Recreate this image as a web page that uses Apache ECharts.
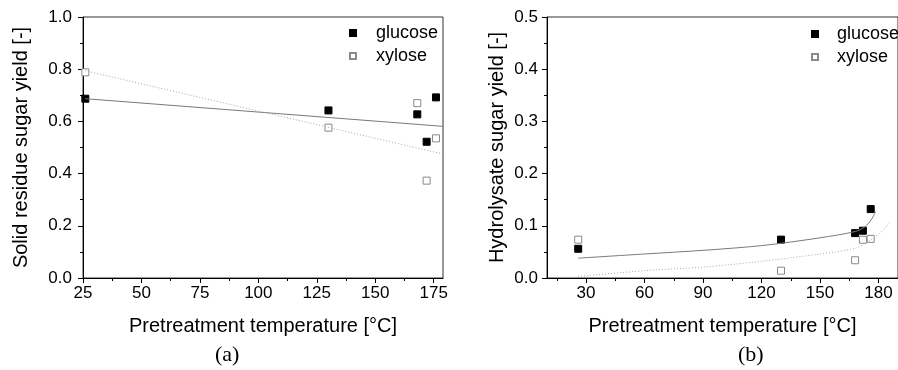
<!DOCTYPE html>
<html>
<head>
<meta charset="utf-8">
<script src="https://cdn.jsdelivr.net/npm/echarts@6/dist/echarts.min.js"></script>
<style>
  html, body { margin: 0; padding: 0; background: #fff; }
  #chart { width: 898px; height: 370px; }
</style>
</head>
<body>
<div id="chart"></div>
<script>
// (a) solid residue
const tempA = [26, 130, 168, 172, 176];
const glucoseA = [0.687, 0.642, 0.627, 0.522, 0.692];
const xyloseA = [0.788, 0.576, 0.670, 0.373, 0.535];
const glucoseFitA = [[26, 0.687], [179, 0.581]];
const xyloseFitA = [[26, 0.794], [179, 0.475]];
const xTicksA = [25, 50, 75, 100, 125, 150, 175];
const xMinorA = [37.5, 62.5, 87.5, 112.5, 137.5, 162.5];
const yTicksA = [0, 0.2, 0.4, 0.6, 0.8, 1.0];
const yMinorA = [0.1, 0.3, 0.5, 0.7, 0.9];

// (b) hydrolysate
const tempB = [26, 130, 168, 172, 176];
const glucoseB = [0.056, 0.0735, 0.086, 0.0906, 0.132];
const xyloseB = [0.0735, 0.014, 0.034, 0.0733, 0.075];
const glucoseFitB = [[26, 0.038], [60, 0.046], [90, 0.053], [120, 0.062], [150, 0.077], [168, 0.089], [173, 0.098], [176.5, 0.113], [178.5, 0.127]];
const xyloseFitB = [[26, 0.003], [60, 0.014], [90, 0.021], [120, 0.032], [150, 0.046], [168, 0.057], [176, 0.073], [182.5, 0.092], [186, 0.108]];
const xTicksB = [30, 60, 90, 120, 150, 180];
const xMinorB = [15, 45, 75, 105, 135, 165];
const yTicksB = [0, 0.1, 0.2, 0.3, 0.4, 0.5];
const yMinorB = [0.05, 0.15, 0.25, 0.35, 0.45];

const FONT = 'Liberation Sans, Arial, sans-serif';
const pairs = (xs, ys) => xs.map((x, i) => [x, ys[i]]);

const mainX = (grid, min, max, ticks) => ({
    type: 'value', gridIndex: grid, min: min, max: max, position: 'bottom',
    name: 'Pretreatment temperature [°C]', nameLocation: 'middle', nameGap: 38,
    nameTextStyle: { fontFamily: FONT, fontSize: 20, color: '#000' },
    axisLine: { show: true, lineStyle: { color: '#000', width: 1 } },
    axisTick: { show: true, inside: false, length: 5, customValues: ticks, lineStyle: { color: '#000' } },
    axisLabel: { customValues: ticks, margin: 7, fontFamily: FONT, fontSize: 17, color: '#000' },
    splitLine: { show: false }
});
const minorX = (grid, min, max, ticks) => ({
    type: 'value', gridIndex: grid, min: min, max: max, position: 'bottom',
    axisLine: { show: false },
    axisTick: { show: true, length: 3, customValues: ticks, lineStyle: { color: '#000' } },
    axisLabel: { show: false },
    splitLine: { show: false }
});
const mainY = (grid, max, ticks, name, gap, margin) => ({
    type: 'value', gridIndex: grid, min: 0, max: max, position: 'left',
    name: name, nameLocation: 'middle', nameGap: gap,
    nameTextStyle: { fontFamily: FONT, fontSize: 20, color: '#000' },
    axisLine: { show: true, lineStyle: { color: '#000', width: 1 } },
    axisTick: { show: true, length: 5, customValues: ticks, lineStyle: { color: '#000' } },
    axisLabel: { customValues: ticks, margin: margin, fontFamily: FONT, fontSize: 17, color: '#000',
        formatter: v => v.toFixed(1) },
    splitLine: { show: false }
});
const minorY = (grid, max, ticks) => ({
    type: 'value', gridIndex: grid, min: 0, max: max, position: 'left',
    axisLine: { show: false },
    axisTick: { show: true, length: 3, customValues: ticks, lineStyle: { color: '#000' } },
    axisLabel: { show: false },
    splitLine: { show: false }
});

const glucoseStyle = { color: '#000', borderColor: '#000', borderWidth: 1, opacity: 1 };
const xyloseStyle = { color: '#fff', borderColor: '#8a8a8a', borderWidth: 1, opacity: 1 };

const chart = echarts.init(document.getElementById('chart'), null, { renderer: 'canvas' });

const option = {
    animation: false,
    backgroundColor: '#fff',
    title: [
        { text: '(a)', left: 210, top: 339, textStyle: { fontFamily: 'Liberation Serif, Times New Roman, serif', fontSize: 22, fontWeight: 'normal', color: '#000' } },
        { text: '(b)', left: 733, top: 339, textStyle: { fontFamily: 'Liberation Serif, Times New Roman, serif', fontSize: 22, fontWeight: 'normal', color: '#000' } }
    ],
    legend: [
        {
            data: ['glucose', 'xylose'], orient: 'vertical', left: 344, top: 19,
            itemWidth: 6, itemHeight: 6, itemGap: 5, icon: 'rect',
            textStyle: { fontFamily: FONT, fontSize: 18, color: '#000', padding: [0, 0, 0, 15] }
        },
        {
            data: ['glucose', 'xylose'], orient: 'vertical', left: 806, top: 20,
            itemWidth: 6, itemHeight: 6, itemGap: 5, icon: 'rect',
            textStyle: { fontFamily: FONT, fontSize: 18, color: '#000', padding: [0, 0, 0, 14] }
        }
    ],
    grid: [
        { left: 83, top: 17, width: 360, height: 261, show: true, borderColor: '#333', borderWidth: 1, backgroundColor: 'transparent' },
        { left: 547, top: 17, width: 355, height: 261, show: true, borderColor: '#333', borderWidth: 1, backgroundColor: 'transparent' }
    ],
    xAxis: [
        mainX(0, 25, 179, xTicksA),
        minorX(0, 25, 179, xMinorA),
        mainX(1, 10, 190, xTicksB),
        minorX(1, 10, 190, xMinorB)
    ],
    yAxis: [
        mainY(0, 1.0, yTicksA, 'Solid residue sugar yield [-]', 52, 11),
        minorY(0, 1.0, yMinorA),
        mainY(1, 0.5, yTicksB, 'Hydrolysate sugar yield [-]', 40, 9),
        minorY(1, 0.5, yMinorB)
    ],
    series: [
        {
            name: 'glucose fit', type: 'line', xAxisIndex: 0, yAxisIndex: 0,
            data: glucoseFitA, symbol: 'none', silent: true,
            lineStyle: { color: '#7a7a7a', width: 1, type: 'solid' }
        },
        {
            name: 'xylose fit', type: 'line', xAxisIndex: 0, yAxisIndex: 0,
            data: xyloseFitA, symbol: 'none', silent: true,
            lineStyle: { color: '#a8a8a8', width: 1, type: [1, 2] }
        },
        {
            name: 'glucose', type: 'scatter', xAxisIndex: 0, yAxisIndex: 0,
            data: pairs(tempA, glucoseA), symbol: 'rect', symbolSize: 7, itemStyle: glucoseStyle
        },
        {
            name: 'xylose', type: 'scatter', xAxisIndex: 0, yAxisIndex: 0,
            data: pairs(tempA, xyloseA), symbol: 'rect', symbolSize: 7, itemStyle: xyloseStyle
        },
        {
            name: 'glucose fit', type: 'line', xAxisIndex: 2, yAxisIndex: 2,
            data: glucoseFitB, symbol: 'none', smooth: 0.3, silent: true,
            lineStyle: { color: '#7a7a7a', width: 1, type: 'solid' }
        },
        {
            name: 'xylose fit', type: 'line', xAxisIndex: 2, yAxisIndex: 2,
            data: xyloseFitB, symbol: 'none', smooth: 0.3, silent: true,
            lineStyle: { color: '#a8a8a8', width: 1, type: [1, 2] }
        },
        {
            name: 'glucose', type: 'scatter', xAxisIndex: 2, yAxisIndex: 2,
            data: pairs(tempB, glucoseB), symbol: 'rect', symbolSize: 7, itemStyle: glucoseStyle
        },
        {
            name: 'xylose', type: 'scatter', xAxisIndex: 2, yAxisIndex: 2,
            data: pairs(tempB, xyloseB), symbol: 'rect', symbolSize: 7, itemStyle: xyloseStyle
        }
    ]
};

chart.setOption(option);
</script>
</body>
</html>
